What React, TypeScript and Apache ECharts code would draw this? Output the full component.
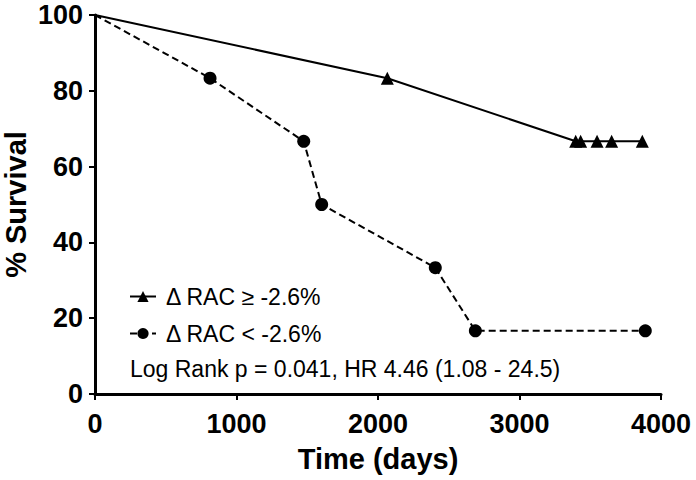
import React, { useEffect, useRef } from "react";
import * as echarts from "echarts";

const xTicks = [0, 1000, 2000, 3000, 4000];
const yTicks = [0, 20, 40, 60, 80, 100];

const highName = "Δ RAC ≥ -2.6%";
const highDays = [0, 2066, 3397, 3432, 3548, 3651, 3868];
const highSurv = [100, 83.33, 66.67, 66.67, 66.67, 66.67, 66.67];

const lowName = "Δ RAC < -2.6%";
const lowDays = [0, 813, 1475, 1602, 2405, 2688, 3889];
const lowSurv = [100, 83.33, 66.67, 50, 33.33, 16.67, 16.67];

const statText = "Log Rank p = 0.041, HR 4.46 (1.08 - 24.5)";

const FONT = "'Liberation Sans', Arial, Helvetica, sans-serif";

function toData(xs: number[], ys: number[]) {
  return xs.map((x, i) =>
    i === 0 ? { value: [x, ys[i]], symbol: "none" } : { value: [x, ys[i]] }
  );
}

export default function App() {
  const ref = useRef<HTMLDivElement>(null);
  useEffect(() => {
    if (!ref.current) return;
    const chart = echarts.init(ref.current, null, { renderer: "svg" });
    chart.setOption({
      animation: false,
      backgroundColor: "#ffffff",
      grid: { left: 95, right: 35, top: 15, bottom: 86, containLabel: false, outerBoundsMode: "none" },
      xAxis: {
        type: "value",
        min: xTicks[0],
        max: xTicks[xTicks.length - 1],
        interval: 1000,
        name: "Time (days)",
        nameLocation: "middle",
        nameGap: 50,
        nameMoveOverlap: false,
        nameTextStyle: { fontFamily: FONT, fontWeight: "bold", fontSize: 29, color: "#000" },
        axisLine: { show: true, lineStyle: { color: "#000", width: 3 } },
        axisTick: { show: true, length: 6, lineStyle: { color: "#000", width: 2 } },
        axisLabel: {
          fontFamily: FONT,
          fontWeight: "bold",
          fontSize: 27,
          color: "#000",
          margin: 16,
          formatter: (v: number) => String(v),
        },
        splitLine: { show: false },
      },
      yAxis: {
        type: "value",
        min: yTicks[0],
        max: yTicks[yTicks.length - 1],
        interval: 20,
        name: "% Survival",
        nameLocation: "middle",
        nameGap: 65,
        nameMoveOverlap: false,
        nameTextStyle: { fontFamily: FONT, fontWeight: "bold", fontSize: 29, color: "#000" },
        axisLine: { show: true, lineStyle: { color: "#000", width: 3 } },
        axisTick: { show: true, length: 6, lineStyle: { color: "#000", width: 2 } },
        axisLabel: {
          fontFamily: FONT,
          fontWeight: "bold",
          fontSize: 27,
          color: "#000",
          margin: 12,
          formatter: (v: number) => String(v),
        },
        splitLine: { show: false },
      },
      legend: {
        orient: "vertical",
        left: 129,
        top: 285,
        padding: 0,
        itemGap: 14,
        itemWidth: 26,
        itemHeight: 14,
        textStyle: { fontFamily: FONT, fontSize: 23, color: "#000", lineHeight: 22, padding: [0, 0, 0, 5] },
        data: [highName, lowName],
      },
      graphic: [
        {
          type: "text",
          left: 130,
          top: 357,
          style: { text: statText, fontFamily: FONT, fontSize: 23, fill: "#000" },
        },
      ],
      series: [
        {
          name: highName,
          type: "line",
          data: toData(highDays, highSurv),
          symbol: "triangle",
          symbolSize: 13,
          lineStyle: { color: "#000", width: 2, type: "solid" },
          itemStyle: { color: "#000" },
        },
        {
          name: lowName,
          type: "line",
          data: toData(lowDays, lowSurv),
          symbol: "circle",
          symbolSize: 13,
          lineStyle: { color: "#000", width: 2, type: [7, 4] },
          itemStyle: { color: "#000" },
        },
      ],
    });
    return () => chart.dispose();
  }, []);
  return (
    <div
      ref={ref}
      style={{ position: "fixed", left: 0, top: 0, width: 696, height: 480, background: "#fff" }}
    />
  );
}
